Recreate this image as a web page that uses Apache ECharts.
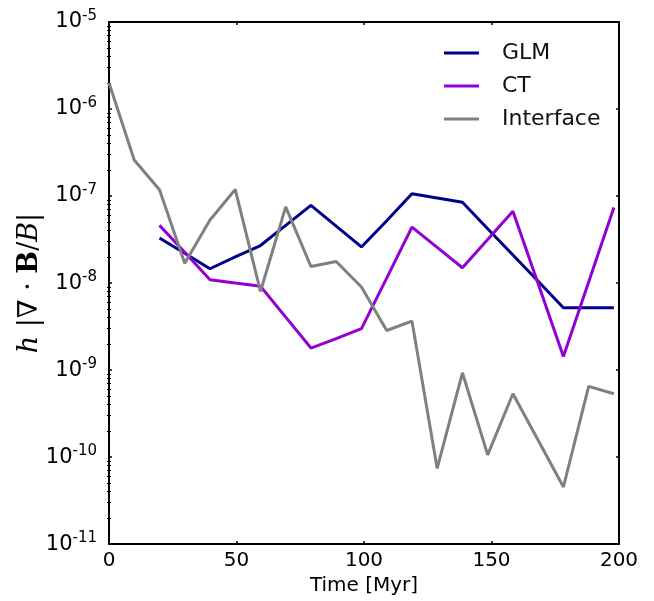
<!DOCTYPE html>
<html>
<head>
<meta charset="utf-8">
<script src="https://cdn.jsdelivr.net/npm/echarts@6/dist/echarts.min.js"></script>
<style>
  html, body { margin: 0; padding: 0; background: #fff; }
  #chart { width: 654px; height: 601px; }
</style>
</head>
<body>
<div id="chart"></div>
<script>
// simulation output times [Myr]
var times = [0, 9.9, 19.8, 29.7, 39.6, 49.5, 59.4, 69.3, 79.2, 89.1, 99,
             108.9, 118.8, 128.7, 138.6, 148.5, 158.4, 168.3, 178.2, 188.1, 198];

// GLM and CT start at the third output
var glmValues = [3.3e-8, 2.2e-8, 1.46e-8, 2.0e-8, 2.7e-8, 4.6e-8, 7.8e-8, 4.5e-8, 2.6e-8,
                 5.2e-8, 1.06e-7, 9.5e-8, 8.5e-8, 4.2e-8, 2.1e-8, 1.05e-8, 5.2e-9, 5.2e-9, 5.2e-9];
var ctValues = [4.6e-8, 2.26e-8, 1.09e-8, 1.0e-8, 9.2e-9, 4.06e-9, 1.79e-9, 2.3e-9, 3.0e-9,
                1.14e-8, 4.4e-8, 2.57e-8, 1.5e-8, 3.17e-8, 6.7e-8, 9.8e-9, 1.43e-9, 1.03e-8, 7.4e-8];
var interfaceValues = [2.0e-6, 2.6e-7, 1.18e-7, 1.69e-8, 5.3e-8, 1.19e-7, 8.0e-9, 7.5e-8, 1.55e-8,
                       1.77e-8, 9.0e-9, 2.85e-9, 3.66e-9, 7.4e-11, 9.3e-10, 1.06e-10, 5.35e-10,
                       1.56e-10, 4.53e-11, 6.5e-10, 5.35e-10];

var seriesNames = ['GLM', 'CT', 'Interface'];
var xTicks = [0, 50, 100, 150, 200];
var yDecades = [-11, -10, -9, -8, -7, -6, -5];

function pairs(xs, ys, offset) {
    return ys.map(function (v, i) { return [xs[i + offset], v]; });
}

// matplotlib-style minor ticks at 2..9 x 10^n, in log10 units
var minorTicks = [];
yDecades.slice(0, -1).forEach(function (d) {
    for (var k = 2; k <= 9; k++) minorTicks.push(d + Math.log10(k));
});

var font = 'DejaVu Sans';
var black = '#000';

try {
    var chart = echarts.init(document.getElementById('chart'));

    var baseX = {
        type: 'value', min: 0, max: 200, interval: 50,
        axisLine: { show: true, onZero: false, lineStyle: { color: black, width: 2 } },
        axisTick: { show: true, inside: true, length: 3, lineStyle: { color: black, width: 1.5 } },
        splitLine: { show: false }
    };
    var baseLogY = {
        type: 'log', logBase: 10, min: 1e-11, max: 1e-5, interval: 1,
        axisLine: { show: true, onZero: false, lineStyle: { color: black, width: 2 } },
        axisTick: { show: true, inside: true, length: 3, lineStyle: { color: black, width: 1.5 } },
        splitLine: { show: false }
    };
    var baseMinorY = {
        type: 'value', min: -11, max: -5,
        axisLine: { show: false },
        axisLabel: { show: false },
        axisTick: { show: true, inside: true, length: 2, customValues: minorTicks,
                    lineStyle: { color: black, width: 1 } },
        splitLine: { show: false }
    };

    var option = {
        animation: false,
        backgroundColor: '#fff',
        grid: { left: 109, right: 35, top: 22, bottom: 53, containLabel: false },
        legend: {
            data: seriesNames,
            orient: 'vertical',
            left: 444, top: 42, padding: 0,
            icon: 'rect',
            itemWidth: 35, itemHeight: 3,
            itemGap: 11,
            textStyle: { fontFamily: font, fontSize: 22, color: '#111', padding: [0, 0, 0, 18] }
        },
        xAxis: [
            Object.assign({}, baseX, {
                position: 'bottom',
                name: 'Time [Myr]', nameLocation: 'middle', nameGap: 30,
                nameTextStyle: { fontFamily: font, fontSize: 20, color: black },
                axisLabel: { show: true, fontFamily: font, fontSize: 20, color: black, margin: 7,
                             customValues: xTicks }
            }),
            Object.assign({}, baseX, { position: 'top', axisLabel: { show: false } })
        ],
        yAxis: [
            Object.assign({}, baseLogY, {
                position: 'left',
                name: '{i|h}{n| |∇ · }{b|B}{n|/}{i|B}{n||}',
                nameLocation: 'middle', nameGap: 66, nameRotate: 90,
                nameMoveOverlap: false,
                nameTextStyle: {
                    fontFamily: 'DejaVu Serif', fontSize: 27, color: black,
                    rich: {
                        i: { fontFamily: 'DejaVu Serif', fontStyle: 'italic', fontSize: 27, color: black },
                        n: { fontFamily: 'DejaVu Serif', fontSize: 27, color: black },
                        b: { fontFamily: 'DejaVu Serif', fontWeight: 'bold', fontSize: 27, color: black }
                    }
                },
                axisLabel: {
                    show: true, margin: 12,
                    formatter: function (v) {
                        return '{b|10}{s|' + Math.round(Math.log10(v)) + '}';
                    },
                    rich: {
                        b: { fontFamily: font, fontSize: 21, color: black },
                        s: { fontFamily: font, fontSize: 15, color: black, padding: [0, 0, 11, 0] }
                    }
                }
            }),
            Object.assign({}, baseLogY, { position: 'right', axisLabel: { show: false } }),
            Object.assign({}, baseMinorY, { position: 'left' }),
            Object.assign({}, baseMinorY, { position: 'right' })
        ],
        series: [
            {
                name: 'GLM', type: 'line', xAxisIndex: 0, yAxisIndex: 0,
                data: pairs(times, glmValues, 2),
                symbol: 'none', color: '#00008b',
                lineStyle: { width: 3, color: '#00008b' }
            },
            {
                name: 'CT', type: 'line', xAxisIndex: 0, yAxisIndex: 0,
                data: pairs(times, ctValues, 2),
                symbol: 'none', color: '#9400d3',
                lineStyle: { width: 3, color: '#9400d3' }
            },
            {
                name: 'Interface', type: 'line', xAxisIndex: 0, yAxisIndex: 0,
                data: pairs(times, interfaceValues, 0),
                symbol: 'none', color: '#808080',
                lineStyle: { width: 3, color: '#808080' }
            }
        ]
    };
    chart.setOption(option);
} catch (error) {
    console.error('Failed to draw chart');
    console.error(error);
}
</script>
</body>
</html>
